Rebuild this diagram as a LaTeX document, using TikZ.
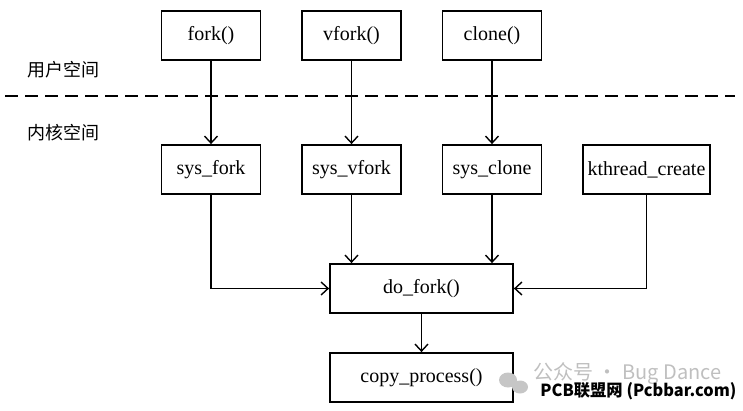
\documentclass[tikz,border=0pt]{standalone}
\usepackage{fontspec}
\setmainfont{Liberation Serif}
\newfontfamily\cjk{Noto Sans CJK SC}
\usetikzlibrary{arrows.meta}

\begin{document}
\begin{tikzpicture}[x=0.5pt,y=-0.5pt,
    box/.style={draw, line width=0.9pt, minimum height=24.5pt, inner sep=0pt, font=\fontsize{10}{12}\selectfont},
    flow/.style={line width=0.7pt, -{Straight Barb[length=3.5pt,width=6.5pt]}},
    zone/.style={font=\cjk\fontsize{9}{11}\selectfont}]
    \useasboundingbox (0,0) rectangle (743,411);

    % User space
    \node[box, minimum width=49.5pt] (fork) at (211,35.5) {fork()};
    \node[box, minimum width=49.5pt] (vfork) at (351.5,35.5) {vfork()};
    \node[box, minimum width=49.5pt] (clone) at (492,35.5) {clone()};
    \node[zone] (user) at (63,70) {用户空间};

    % Boundary
    \coordinate (sepL) at (5,96);
    \coordinate (sepR) at (735,96);
    \draw[line width=0.6pt, dash pattern=on 6.5pt off 3.5pt] (sepL) -- (sepR);

    % Kernel space
    \node[zone] (kernel) at (63,133) {内核空间};
    \node[box, minimum width=49.5pt] (sysfork) at (211,169.5) {sys\_fork};
    \node[box, minimum width=49.5pt] (sysvfork) at (351.5,169.5) {sys\_vfork};
    \node[box, minimum width=49.5pt] (sysclone) at (492,169.5) {sys\_clone};
    \node[box, minimum width=63.5pt] (kthread) at (646.5,169.5) {kthread\_create};
    \node[box, minimum width=91.5pt] (dofork) at (421.5,288.5) {do\_fork()};
    \node[box, minimum width=91.5pt] (copyproc) at (421.5,377.5) {copy\_process()};

    % Edges
    \draw[flow] (fork) -- (sysfork);
    \draw[flow] (vfork) -- (sysvfork);
    \draw[flow] (clone) -- (sysclone);

    \draw[flow] (sysfork.south) |- (dofork.west);
    \draw[flow] (sysvfork.south) -- (sysvfork |- dofork.north);
    \draw[flow] (sysclone.south) -- (sysclone |- dofork.north);
    \draw[flow] (kthread.south) |- (dofork.east);

    \draw[flow] (dofork) -- (copyproc);

    % Watermark
    \fill[gray!45] (508,380) ellipse (9 and 7.5);
    \fill[gray!45] (520,387) ellipse (8 and 6.5);
    \node[anchor=west, inner sep=0pt, text=gray!50, font=\cjk\fontsize{10}{12}\selectfont] (wechat) at (533,374) {公众号 · Bug Dance};
    \node[anchor=west, inner sep=0pt, font=\cjk\bfseries\fontsize{9}{11}\selectfont] (pcb) at (540,391) {\resizebox{98pt}{7pt}{PCB联盟网 (Pcbbar.com)}};
\end{tikzpicture}
\end{document}
